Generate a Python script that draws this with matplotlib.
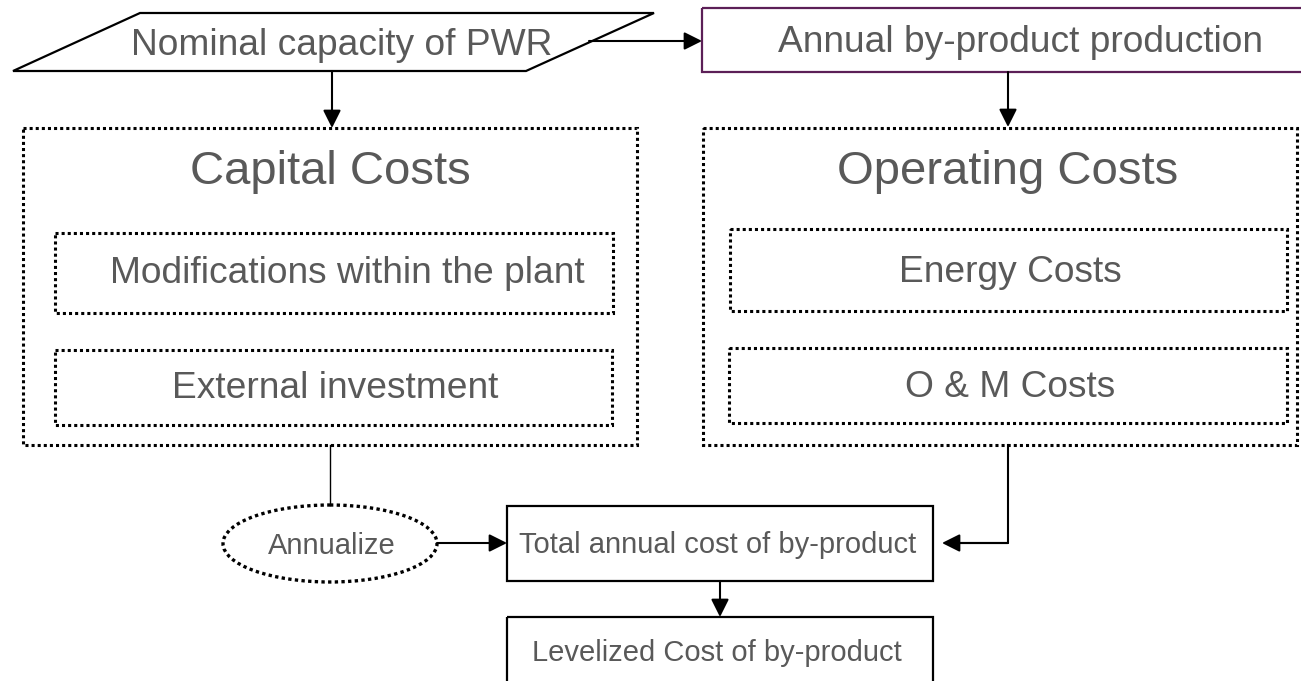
import matplotlib.pyplot as plt
from matplotlib.patches import Rectangle, Polygon, Ellipse

plt.rcParams['font.family'] = ['Liberation Sans', 'DejaVu Sans']

# labels of the flowchart nodes
top_labels = ["Nominal capacity of PWR", "Annual by-product production"]
group_titles = ["Capital Costs", "Operating Costs"]
capital_items = ["Modifications within the plant", "External investment"]
operating_items = ["Energy Costs", "O & M Costs"]
annualize_label = "Annualize"
bottom_labels = ["Total annual cost of by-product", "Levelized Cost of by-product"]

# layout in pixel units (x0, y0, x1, y1), y grows downward
para = [(140, 13), (654, 13), (526, 71), (13, 71)]
prod_box = (702, 8, 1340, 72)
groups = [(23, 128, 637, 445), (703, 128, 1297, 445)]
capital_boxes = [(55, 233, 613, 313), (55, 350, 612, 425)]
operating_boxes = [(730, 229, 1287, 311), (729, 348, 1287, 423)]
ell = (330, 543.5, 214, 77)
total_box = (507, 506, 933, 581)
level_box = (507, 617, 933, 700)

txt_col = '#595959'
dot = (0, (1, 1))

fig = plt.figure(figsize=(13.01, 6.81), dpi=100)
ax = fig.add_axes([0, 0, 1, 1])
ax.set_xlim(0, 1301)
ax.set_ylim(681, 0)
ax.axis('off')


def rect(b, **kw):
    ax.add_patch(Rectangle((b[0], b[1]), b[2] - b[0], b[3] - b[1], fill=False, **kw))


def label(x, y, s, size):
    ax.text(x, y, s, ha='center', va='baseline', fontsize=size, color=txt_col)


def arrow(p0, p1, lw=1.5):
    ax.annotate('', xy=p1, xytext=p0,
                arrowprops=dict(arrowstyle='-|>,head_length=0.6,head_width=0.3',
                                mutation_scale=18, color='k', lw=lw,
                                shrinkA=0, shrinkB=0))


# top row
ax.add_patch(Polygon(para, closed=True, fill=False, ec='k', lw=1.6))
label(342, 55, top_labels[0], 26.7)
rect(prod_box, ec='#5c1f57', lw=1.6)
label(1021, 52, top_labels[1], 26.7)
arrow((589, 41), (702, 41))

# group boxes
for g, t in zip(groups, group_titles):
    rect(g, ec='k', lw=2.2, ls=dot)
    label((g[0] + g[2]) / 2 if t == group_titles[0] else 1008, 184, t, 34)
arrow((332, 71), (332, 128))
arrow((1008, 72), (1008, 127))

for b, t, base in zip(capital_boxes, capital_items, [283, 398]):
    rect(b, ec='k', lw=2.2, ls=dot)
    label((b[0] + b[2]) / 2 + 13 if t == capital_items[0] else 335, base, t, 26.7)
for b, t, base in zip(operating_boxes, operating_items, [282, 397]):
    rect(b, ec='k', lw=2.2, ls=dot)
    label(1010, base, t, 26.7)

# bottom part
ax.plot([330, 330], [445, 505], color='k', lw=1.0)
ax.add_patch(Ellipse((ell[0], ell[1]), ell[2], ell[3], fill=False, ec='k', lw=2.4, ls=dot))
label(332, 554, annualize_label, 21)
arrow((437, 543), (507, 543))

rect(total_box, ec='k', lw=1.6)
label(718, 553, bottom_labels[0], 21)
ax.plot([1008, 1008, 960], [445, 543, 543], color='k', lw=1.5)
arrow((1008, 543), (942, 543))
arrow((720, 581), (720, 617))
rect(level_box, ec='k', lw=1.6)
label(717, 661, bottom_labels[1], 21)

fig.savefig('out.png', dpi=100)
